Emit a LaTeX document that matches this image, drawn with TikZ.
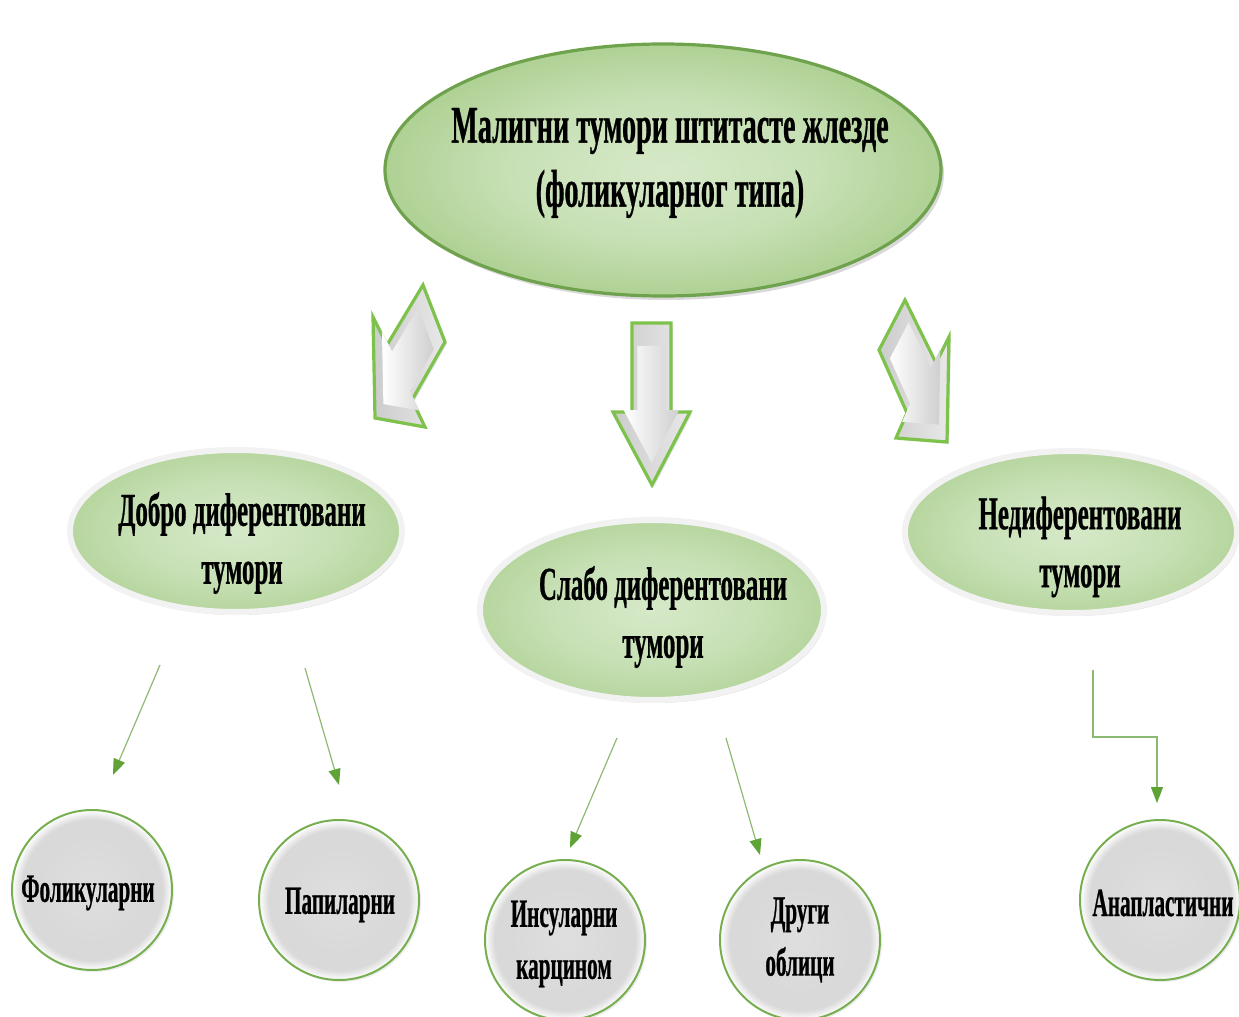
\documentclass[tikz,border=0pt]{standalone}
\usepackage{fontspec}
\setmainfont{Liberation Serif}[FakeStretch=0.53,FakeBold=0.6]
\usetikzlibrary{shapes.geometric,shadows,arrows.meta}
\definecolor{ellin}{HTML}{D6E9C8}
\definecolor{ellmid}{HTML}{C7E0B5}
\definecolor{ellout}{HTML}{AFD194}
\definecolor{topborder}{HTML}{6FA24C}
\definecolor{lineg}{HTML}{8DBA72}
\definecolor{tipg}{HTML}{5FA336}
\definecolor{circfill}{HTML}{D9D9D9}
\definecolor{circborder}{HTML}{76AE50}
\definecolor{arrgreen}{HTML}{7DC24A}
\pgfdeclareradialshading{topsh}{\pgfpoint{0bp}{0bp}}{color(0bp)=(ellin); color(14bp)=(ellmid); color(25bp)=(ellout); color(50bp)=(ellout)}
\pgfdeclareradialshading{midsh}{\pgfpoint{0bp}{0bp}}{color(0bp)=(ellin); color(15bp)=(ellmid); color(25bp)=(ellout!70!ellmid); color(50bp)=(ellout)}
\pgfdeclareradialshading{circsh}{\pgfpoint{0bp}{0bp}}{color(0bp)=(circfill!85!white); color(17bp)=(circfill); color(22bp)=(circfill); color(25bp)=(white); color(50bp)=(white)}
\tikzset{
  topell/.style={ellipse, shading=topsh, draw=topborder, line width=1.6pt,
    minimum width=278pt, minimum height=126pt, inner sep=0pt,
    drop shadow={opacity=0.3, shadow xshift=1.5pt, shadow yshift=-2pt}},
  toptext/.style={font=\bfseries\fontsize{26.5}{32}\selectfont, align=center, inner sep=0pt},
  midell/.style={ellipse, shading=midsh, draw=gray!10, line width=3pt,
    minimum width=166pt, minimum height=81pt, inner sep=0pt,
    drop shadow={opacity=0.25, shadow xshift=1pt, shadow yshift=-1.5pt}},
  midtext/.style={font=\bfseries\fontsize{23.5}{29}\selectfont, align=center, inner sep=0pt},
  circnode/.style={circle, shading=circsh, draw=circborder, line width=1pt,
    minimum size=80pt, inner sep=0pt,
    drop shadow={opacity=0.15, shadow xshift=1pt, shadow yshift=-1pt}},
  circtext/.style={font=\bfseries\fontsize{20}{26}\selectfont, align=center, inner sep=0pt},
  barrow/.style={draw=arrgreen, line width=1.6pt, line join=miter,
    left color=gray!40, right color=gray!18,
    drop shadow={opacity=0.2, shadow xshift=1pt, shadow yshift=-1pt}},
  bbevel/.style={left color=white, right color=gray!38},
  conn/.style={draw=lineg, line width=0.6pt,
    -{Triangle[length=8pt,width=6pt,color=tipg]}},
  x=0.5pt, y=-0.5pt
}
\begin{document}
\begin{tikzpicture}
\useasboundingbox (0,0) rectangle (1239,1017);
% main ellipse
\node[topell] (top) at (663,170) {};
\node[toptext] (toptxt) at (670,163) {Малигни тумори штитасте жлезде\\(фоликуларног типа)};
% block arrows
\path[barrow] (423,285) -- (445,342) -- (412,400) -- (425,427) -- (375,418) -- (373,317) -- (387,345) -- cycle;
\path[bbevel, scale around={0.72:(405,368)}] (423,285) -- (445,342) -- (412,400) -- (425,427) -- (375,418) -- (373,317) -- (387,345) -- cycle;
\path[barrow] (632,323) -- (671,323) -- (671,412) -- (690,412) -- (652,485) -- (613,412) -- (632,412) -- cycle;
\path[bbevel, scale around={0.72:(651,405)}] (632,323) -- (671,323) -- (671,412) -- (690,412) -- (652,485) -- (613,412) -- (632,412) -- cycle;
\path[barrow] (905,300) -- (879,350) -- (907,413) -- (896,438) -- (947,442) -- (949,337) -- (936,363) -- cycle;
\path[bbevel, scale around={0.72:(918,380)}] (905,300) -- (879,350) -- (907,413) -- (896,438) -- (947,442) -- (949,337) -- (936,363) -- cycle;
% second level
\node[midell] (dobro) at (236,531) {};
\node[midtext] (dobrotxt) at (242,543) {Добро диферентовани\\тумори};
\node[midell, minimum width=172pt, minimum height=90pt] (slabo) at (652,610) {};
\node[midtext] (slabotxt) at (663,617) {Слабо диферентовани\\тумори};
\node[midell] (nedif) at (1071,532) {};
\node[midtext] (nediftxt) at (1080,547) {Недиферентовани\\тумори};
% third level
\node[circnode] (fol) at (92,890) {};
\node[circtext] (foltxt) at (88,893) {Фоликуларни};
\node[circnode] (pap) at (339,900) {};
\node[circtext] (paptxt) at (340,905) {Папиларни};
\node[circnode] (ins) at (565,940) {};
\node[circtext] (instxt) at (564,944) {Инсуларни\\карцином};
\node[circnode] (dr) at (800,940) {};
\node[circtext] (drtxt) at (800,940) {Други\\облици};
\node[circnode] (ana) at (1160,900) {};
\node[circtext] (anatxt) at (1163,903) {Анапластични};
% connectors
\coordinate (c1s) at (160,665); \coordinate (c1e) at (113,775);
\coordinate (c2s) at (305,668); \coordinate (c2e) at (339,785);
\coordinate (c3s) at (617,738); \coordinate (c3e) at (570,848);
\coordinate (c4s) at (726,738); \coordinate (c4e) at (760,855);
\coordinate (c5s) at (1093,670); \coordinate (c5k) at (1157,737); \coordinate (c5e) at (1157,803);
\draw[conn] (c1s) -- (c1e);
\draw[conn] (c2s) -- (c2e);
\draw[conn] (c3s) -- (c3e);
\draw[conn] (c4s) -- (c4e);
\draw[conn] (c5s) |- (c5k) -- (c5e);
\end{tikzpicture}
\end{document}
